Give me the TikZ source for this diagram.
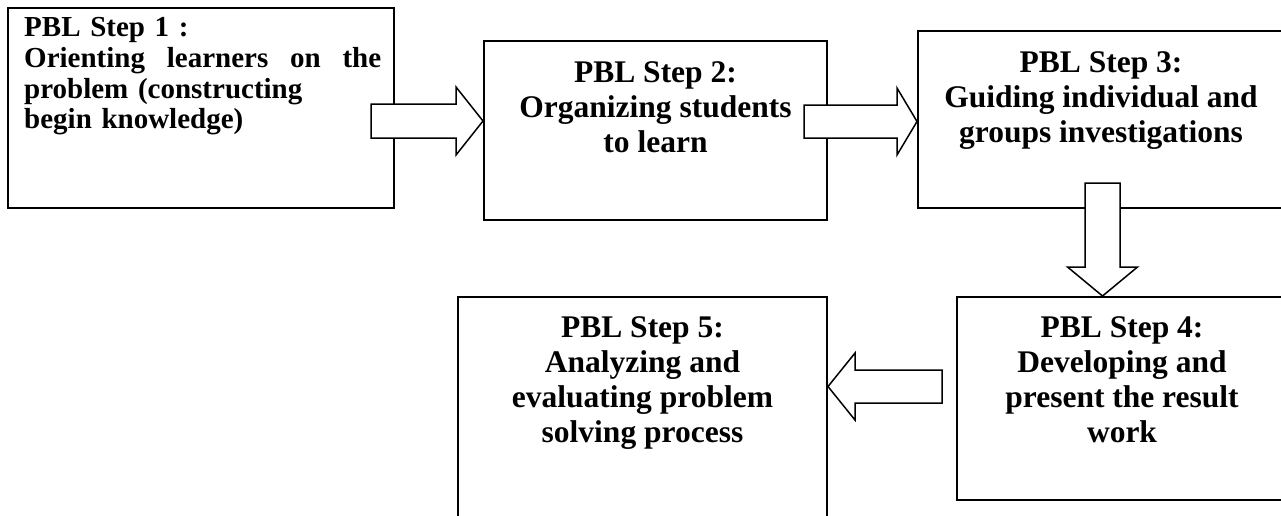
\documentclass[tikz,border=0pt]{standalone}
\usepackage{fontspec}
\setmainfont{Liberation Serif}
\usetikzlibrary{calc}
\setlength{\parindent}{0pt}
\newcommand\myHarrow[5]{\draw[blk] let \p1=(#1), \p2=(#2) in
  (\x1,\y2+#3) -- (\x2-#5,\y2+#3) -- (\x2-#5,\y2+#4) -- (\x2,\y2)
  -- (\x2-#5,\y2-#4) -- (\x2-#5,\y2-#3) -- (\x1,\y2-#3) -- cycle;}
\newcommand\myVarrow[5]{\draw[blk] let \p1=(#1), \p2=(#2) in
  (\x2+#3,\y1) -- (\x2+#3,\y2+#5) -- (\x2+#4,\y2+#5) -- (\x2,\y2)
  -- (\x2-#4,\y2+#5) -- (\x2-#3,\y2+#5) -- (\x2-#3,\y1) -- cycle;}
\begin{document}
\begin{tikzpicture}[x=1pt,y=-1pt,
  stepbox/.style={draw=black, line width=2pt, fill=white, inner sep=0pt, rectangle},
  bigtext/.style={inner sep=0pt, anchor=north, align=center,
    font=\fontsize{31.5pt}{35pt}\selectfont\bfseries},
  smalltext/.style={inner sep=0pt, anchor=north west, align=left, text width=357pt,
    font=\fontsize{29pt}{30.8pt}\selectfont\bfseries},
  blk/.style={draw=black, line width=1.5pt, fill=white, line join=miter}]
\useasboundingbox (0,0) rectangle (1281,515);
\clip (0,0) rectangle (1281,515);
\fill[white] (0,0) rectangle (1281,515);

% boxes
\node[stepbox, minimum width=386pt, minimum height=200pt] (s1) at (201,108) {};
\node[stepbox, minimum width=343pt, minimum height=179pt] (s2) at (655.5,130.5) {};
\node[stepbox, minimum width=366pt, minimum height=177pt] (s3) at (1101,119.5) {};
\node[stepbox, minimum width=330pt, minimum height=203pt] (s4) at (1122,398.5) {};
\node[stepbox, minimum width=369pt, minimum height=233pt] (s5) at (642.5,413.5) {};

% texts
\node[smalltext] (t1) at (24,17) {PBL Step 1 :\\
  \leavevmode\hbox to 357pt{Orienting\hfill learners\hfill on\hfill the}\\
  problem (constructing\\
  begin knowledge)};
\node[bigtext] (t2) at (655.5,61) {PBL Step 2:\\ Organizing students\\ to learn};
\node[bigtext] (t3) at (1101,51) {PBL Step 3:\\ Guiding individual and\\ groups investigations};
\node[bigtext] (t4) at (1122,316) {PBL Step 4:\\ Developing and\\ present the result\\ work};
\node[bigtext] (t5) at (642.5,316) {PBL Step 5:\\ Analyzing and\\ evaluating problem\\ solving process};

% block arrows
\coordinate (a1s) at (371,121);
\coordinate (a2s) at (804,121.5);
\coordinate (a3s) at (1102.5,183);
\coordinate (a4s) at (942,386.5);
\myHarrow{a1s}{s2.west |- a1s}{17pt}{34pt}{27pt}
\myHarrow{a2s}{s3.west |- a2s}{16.5pt}{33.5pt}{20pt}
\myVarrow{a3s}{a3s |- s4.north}{17.5pt}{35pt}{29pt}
\myHarrow{a4s}{s5.east |- a4s}{16.5pt}{33.5pt}{-27pt}
\end{tikzpicture}
\end{document}
